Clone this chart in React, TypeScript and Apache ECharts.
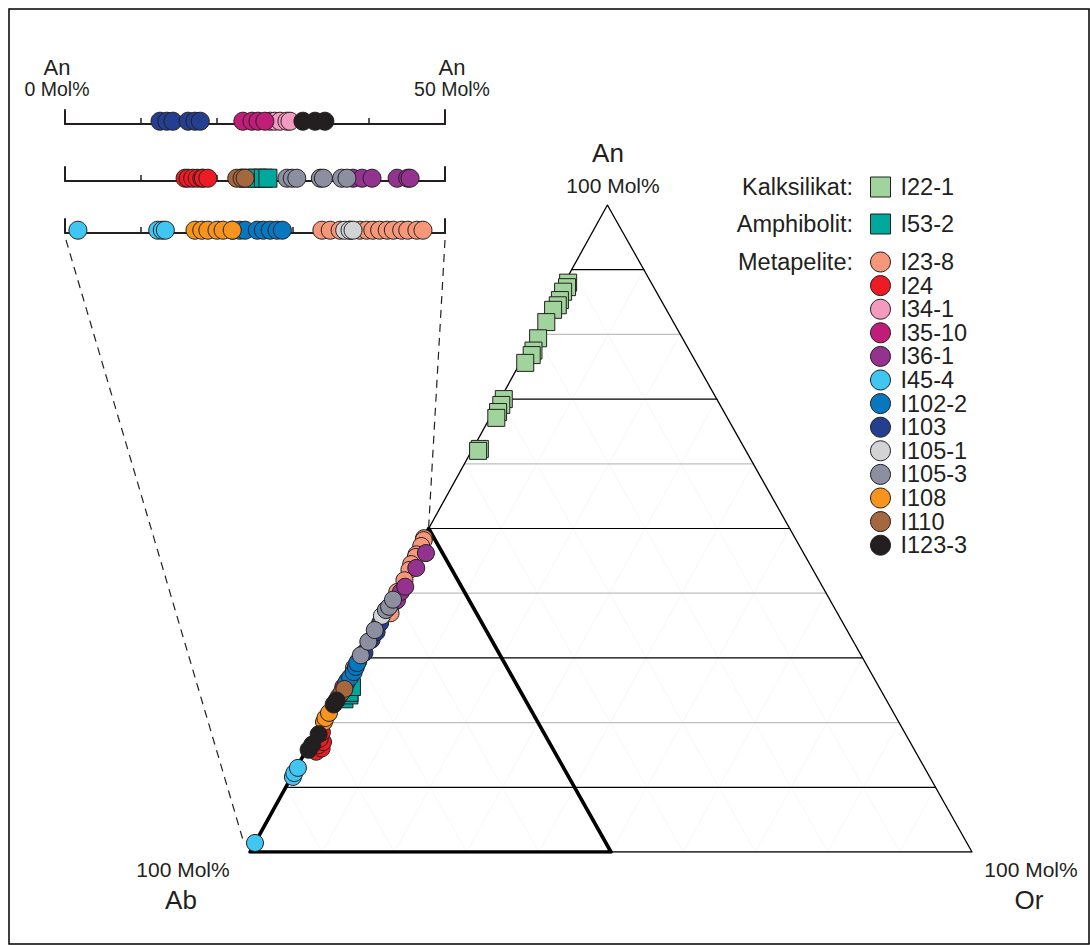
import React, { useEffect, useRef } from "react";
import * as echarts from "echarts";

// Horizontal position of the An apex along the Ab–Or base (0 = Ab, 1 = Or)
const APEX_X = 0.495;

// Sample groups, in legend order
const KALKSILIKAT = ["I22-1"];
const AMPHIBOLIT = ["I53-2"];
const METAPELITE = [
  "I23-8", "I24", "I34-1", "I35-10", "I36-1", "I45-4", "I102-2",
  "I103", "I105-1", "I105-3", "I108", "I110", "I123-3",
];

const SAMPLE_COLORS: Record<string, string> = {
  "I22-1": "#a1d49c",
  "I53-2": "#00a79d",
  "I23-8": "#f6977a",
  "I24": "#ed1c24",
  "I34-1": "#f49ac0",
  "I35-10": "#c01d78",
  "I36-1": "#93328f",
  "I45-4": "#40c6f2",
  "I102-2": "#0778c0",
  "I103": "#243f8f",
  "I105-1": "#d2d3d5",
  "I105-3": "#8b8f9f",
  "I108": "#f7941d",
  "I110": "#a5673e",
  "I123-3": "#231f20",
};

// Feldspar compositions in the ternary: [An mol%, Or mol%] (Ab is the rest)
const TRI_I22_1 = [[88.0, 0.5], [87.3, 0.7], [86.6, 0.5], [85.3, 0.7], [84.5, 0.8], [83.8, 0.5], [81.9, 0.5], [79.4, 0.6], [77.5, 0.9], [76.8, 1.0], [75.6, 0.7], [70.0, 0.5], [69.1, 0.6], [68.0, 0.7], [67.1, 0.9], [62.3, 1.0], [62.0, 0.9]];
const TRI_I53_2 = [[23.6, 1.4], [24.2, 1.8], [24.6, 1.6], [25.5, 1.5]];
const TRI_I23_8 = [[48.5, 0.1], [48.2, 0.2], [47.3, 0.3], [46.0, 0.3], [45.6, 0.4], [44.5, 0.3], [43.6, 0.5], [42.0, 0.6], [40.2, 0.5], [38.5, 0.8], [36.9, 1.2]];
const TRI_I24 = [[15.5, 1.5], [16.0, 2.0], [16.5, 1.3], [17.0, 1.7], [17.5, 1.0], [18.5, 0.8]];
const TRI_I34_1 = [[28.5, 0.3], [29.5, 0.4]];
const TRI_I35_10 = [[25.5, 0.3], [26.5, 0.4]];
const TRI_I36_1 = [[38.9, 1.1], [40.2, 1.0], [41.0, 1.2], [43.9, 1.3], [46.2, 1.5]];
const TRI_I45_4 = [[1.4, 0.0], [11.6, 0.2], [12.2, 0.1], [13.0, 0.2]];
const TRI_I102_2 = [[26.1, 0.4], [27.0, 0.5], [27.8, 0.6], [28.6, 0.5], [29.2, 0.4]];
const TRI_I103 = [[30.8, 0.6], [32.8, 0.6], [34.0, 0.7], [35.4, 0.5]];
const TRI_I105_1 = [[36.5, 0.2]];
const TRI_I105_3 = [[30.4, 0.3], [32.5, 0.3], [34.3, 0.3], [37.4, 0.3], [37.9, 0.5], [39.0, 0.5]];
const TRI_I108 = [[20.1, 0.3], [20.7, 0.2], [21.5, 0.3]];
const TRI_I110 = [[24.0, 0.4], [24.6, 0.5], [25.2, 0.6]];
const TRI_I123_3 = [[15.8, 0.3], [16.6, 0.4], [18.2, 0.5], [22.8, 0.3], [23.4, 0.4]];

// An mol% (0–50) shown on the three enlarged strips
const STRIP_I103 = [12.5, 13.4, 14.2, 16.2, 17.1, 17.8];
const STRIP_I35_10 = [23.4, 24.6, 25.4, 26.3];
const STRIP_I34_1 = [27.0, 27.6, 28.3, 29.2, 29.6];
const STRIP_I123_3 = [31.3, 32.9, 34.2];
const STRIP_I24 = [15.8, 16.2, 16.8, 17.4, 18.0, 18.2, 18.8];
const STRIP_I110 = [22.6, 23.3, 23.7];
const STRIP_I53_2 = [24.1, 25.3, 26.1, 26.7];
const STRIP_I105_3 = [29.2, 29.9, 30.5, 33.6, 34.0, 36.4, 37.1];
const STRIP_I36_1 = [37.9, 39.1, 40.4, 43.7, 45.1, 45.4];
const STRIP_I45_4 = [1.7, 12.2, 12.8, 13.2];
const STRIP_I108 = [17.1, 18.0, 18.8, 20.0, 20.8, 22.0];
const STRIP_I102_2 = [22.1, 23.0, 23.7, 25.3, 26.1, 27.0, 27.9, 28.6];
const STRIP_I23_8 = [33.8, 34.9, 36.2, 37.5, 38.8, 39.7, 40.5, 41.4, 42.4, 43.2, 44.3, 45.1, 46.3, 47.1];
const STRIP_I105_1 = [36.8, 37.5, 37.9];

const TRI_DATA: Record<string, number[][]> = {
  "I22-1": TRI_I22_1, "I53-2": TRI_I53_2, "I23-8": TRI_I23_8, "I24": TRI_I24,
  "I34-1": TRI_I34_1, "I35-10": TRI_I35_10, "I36-1": TRI_I36_1, "I45-4": TRI_I45_4,
  "I102-2": TRI_I102_2, "I103": TRI_I103, "I105-1": TRI_I105_1, "I105-3": TRI_I105_3,
  "I108": TRI_I108, "I110": TRI_I110, "I123-3": TRI_I123_3,
};

// strip row (0 = top) and values for each sample
const STRIP_DATA: Record<string, [number, number[]]> = {
  "I103": [0, STRIP_I103], "I35-10": [0, STRIP_I35_10], "I34-1": [0, STRIP_I34_1], "I123-3": [0, STRIP_I123_3],
  "I24": [1, STRIP_I24], "I110": [1, STRIP_I110], "I53-2": [1, STRIP_I53_2], "I105-3": [1, STRIP_I105_3], "I36-1": [1, STRIP_I36_1],
  "I45-4": [2, STRIP_I45_4], "I108": [2, STRIP_I108], "I102-2": [2, STRIP_I102_2], "I23-8": [2, STRIP_I23_8], "I105-1": [2, STRIP_I105_1],
};

const STRIP_TICKS = 10; // mol% between strip ticks
const TRIANGLE_STEPS = [10, 20, 30, 40, 50, 60, 70, 80, 90];

const FONT = "'Liberation Sans', Arial, Helvetica, sans-serif";
const INK = "#231f20";

// ternary (An, Or in mol%) -> cartesian in the triangle grid
function tern(an: number, or: number): number[] {
  return [or / 100 + (APEX_X * an) / 100, an / 100];
}

const ALL = [...KALKSILIKAT, ...AMPHIBOLIT, ...METAPELITE];
const isSquare = (n: string) => KALKSILIKAT.includes(n) || AMPHIBOLIT.includes(n);

function lineSeries(points: number[][], color: string, width: number, z = 1) {
  return {
    type: "line",
    xAxisIndex: 0,
    yAxisIndex: 0,
    data: points,
    symbol: "none",
    silent: true,
    animation: false,
    z,
    lineStyle: { color, width, cap: "round", join: "round" },
  };
}

function buildOption() {
  const series: any[] = [];

  // faint guide lines parallel to the An–Ab and An–Or edges
  for (const k of TRIANGLE_STEPS) {
    series.push(lineSeries([tern(0, k), tern(100 - k, k)], "#f7f7f7", 1));
    series.push(lineSeries([tern(0, 100 - k), tern(100 - k, 0)], "#f7f7f7", 1));
  }
  // horizontal An isolines: odd tens black, even tens grey
  for (const k of TRIANGLE_STEPS) {
    const dark = (k / 10) % 2 === 1;
    series.push(lineSeries([tern(k, 0), tern(k, 100 - k)], dark ? "#000000" : "#bcbec0", 1.2, 2));
  }
  // triangle outline
  series.push(lineSeries([tern(0, 0), tern(0, 100), tern(100, 0), tern(0, 0)], "#000000", 1.3, 2));
  // plagioclase field: Ab – An50 – Or50
  series.push(lineSeries([tern(0, 50), tern(0, 0), tern(50, 0), tern(0, 50)], "#000000", 3.6, 2));

  for (const name of ALL) {
    const square = isSquare(name);
    const style = { color: SAMPLE_COLORS[name], borderColor: INK, borderWidth: 1, opacity: 1 };
    series.push({
      type: "scatter",
      name,
      xAxisIndex: 0,
      yAxisIndex: 0,
      symbol: square ? "rect" : "circle",
      symbolSize: 17,
      itemStyle: style,
      clip: false,
      z: 5,
      data: TRI_DATA[name].map(([an, or]) => tern(an, or)),
    });
    const strip = STRIP_DATA[name];
    if (strip) {
      const [row, vals] = strip;
      series.push({
        type: "scatter",
        name,
        xAxisIndex: row + 1,
        yAxisIndex: row + 1,
        symbol: square ? "rect" : "circle",
        symbolSize: 18,
        itemStyle: style,
        clip: false,
        z: 5,
        data: vals.map((v) => [v, 0.2]),
      });
    }
  }

  const stripTops = [110, 167, 219];
  const grids = [
    { left: 250, top: 205, width: 722, height: 647 },
    ...stripTops.map((t) => ({ left: 65, top: t, width: 380, height: 14 })),
  ];

  const stripX = stripTops.map((_, i) => ({
    gridIndex: i + 1,
    type: "value",
    min: 0,
    max: 50,
    interval: STRIP_TICKS,
    axisLine: { show: true, onZero: false, lineStyle: { color: INK, width: 2 } },
    axisTick: { show: true, inside: true, length: 6, lineStyle: { color: INK, width: 1.5 } },
    axisLabel: { show: false },
    splitLine: { show: false },
  }));
  const stripY = (pos: string) =>
    stripTops.map((_, i) => ({
      gridIndex: i + 1,
      type: "value",
      min: 0,
      max: 1,
      position: pos,
      axisLine: { show: true, onZero: false, lineStyle: { color: INK, width: 2 } },
      axisTick: { show: false },
      axisLabel: { show: false },
      splitLine: { show: false },
    }));

  const legendBase = {
    left: 870,
    orient: "vertical",
    padding: 0,
    itemWidth: 20,
    itemHeight: 20,
    itemGap: -0.4,
    selectedMode: false,
    itemStyle: { borderColor: INK, borderWidth: 1, opacity: 1 },
    textStyle: { color: INK, fontSize: 23.5, fontFamily: FONT, padding: [0, 0, 0, 5] },
  };

  return {
    animation: false,
    backgroundColor: "#ffffff",
    textStyle: { fontFamily: FONT },
    grid: grids,
    xAxis: [{ gridIndex: 0, type: "value", min: 0, max: 1, show: false }, ...stripX],
    yAxis: [{ gridIndex: 0, type: "value", min: 0, max: 1, show: false }, ...stripY("left"), ...stripY("right")],
    legend: [
      { ...legendBase, top: 175, data: KALKSILIKAT.map((n) => ({ name: n, icon: "rect" })) },
      { ...legendBase, top: 212, data: AMPHIBOLIT.map((n) => ({ name: n, icon: "rect" })) },
      { ...legendBase, top: 250, data: METAPELITE.map((n) => ({ name: n, icon: "circle" })) },
    ],
    series,
  };
}

function text(x: number, y: number, t: string, size: number, align = "center") {
  return {
    type: "text",
    x,
    y,
    z: 10,
    style: { text: t, fill: INK, font: `${size}px ${FONT}`, textAlign: align, textVerticalAlign: "middle" },
  };
}

export default function App() {
  const ref = useRef<HTMLDivElement>(null);

  useEffect(() => {
    if (!ref.current) return;
    const chart = echarts.init(ref.current, undefined, { renderer: "svg" });
    chart.setOption(buildOption() as any);

    // dashed connectors from the lowest strip to the Ab–An50 edge of the triangle
    const s0 = chart.convertToPixel({ gridIndex: 3 } as any, [0, 0]) as number[];
    const s50 = chart.convertToPixel({ gridIndex: 3 } as any, [50, 0]) as number[];
    const ab = chart.convertToPixel({ gridIndex: 0 } as any, tern(0, 0)) as number[];
    const an50 = chart.convertToPixel({ gridIndex: 0 } as any, tern(50, 0)) as number[];
    const dash = { stroke: INK, lineWidth: 1.2, lineDash: [8, 6] };

    chart.setOption({
      graphic: [
        {
          type: "rect",
          z: 0,
          shape: { x: 9, y: 9, width: 1080, height: 935 },
          style: { fill: "none", stroke: "#000", lineWidth: 1.5 },
        },
        { type: "line", z: 1, shape: { x1: s0[0] + 1, y1: s0[1] + 7, x2: ab[0] - 7, y2: ab[1] - 12 }, style: dash },
        { type: "line", z: 1, shape: { x1: s50[0], y1: s50[1] + 7, x2: an50[0], y2: an50[1] - 2 }, style: dash },
        text(57, 67, "An", 22),
        text(57, 89, "0 Mol%", 19.5),
        text(452, 67, "An", 22),
        text(452, 89, "50 Mol%", 19.5),
        text(608, 153, "An", 26),
        text(613, 185, "100 Mol%", 21),
        text(183, 869, "100 Mol%", 21),
        text(181, 900, "Ab", 26),
        text(1031, 869, "100 Mol%", 21),
        text(1029, 900, "Or", 26),
        text(853, 187, "Kalksilikat:", 23.5, "right"),
        text(853, 224, "Amphibolit:", 23.5, "right"),
        text(853, 262, "Metapelite:", 23.5, "right"),
      ],
    } as any);

    return () => chart.dispose();
  }, []);

  return <div ref={ref} style={{ position: "absolute", left: 0, top: 0, width: 1090, height: 945 }} />;
}
